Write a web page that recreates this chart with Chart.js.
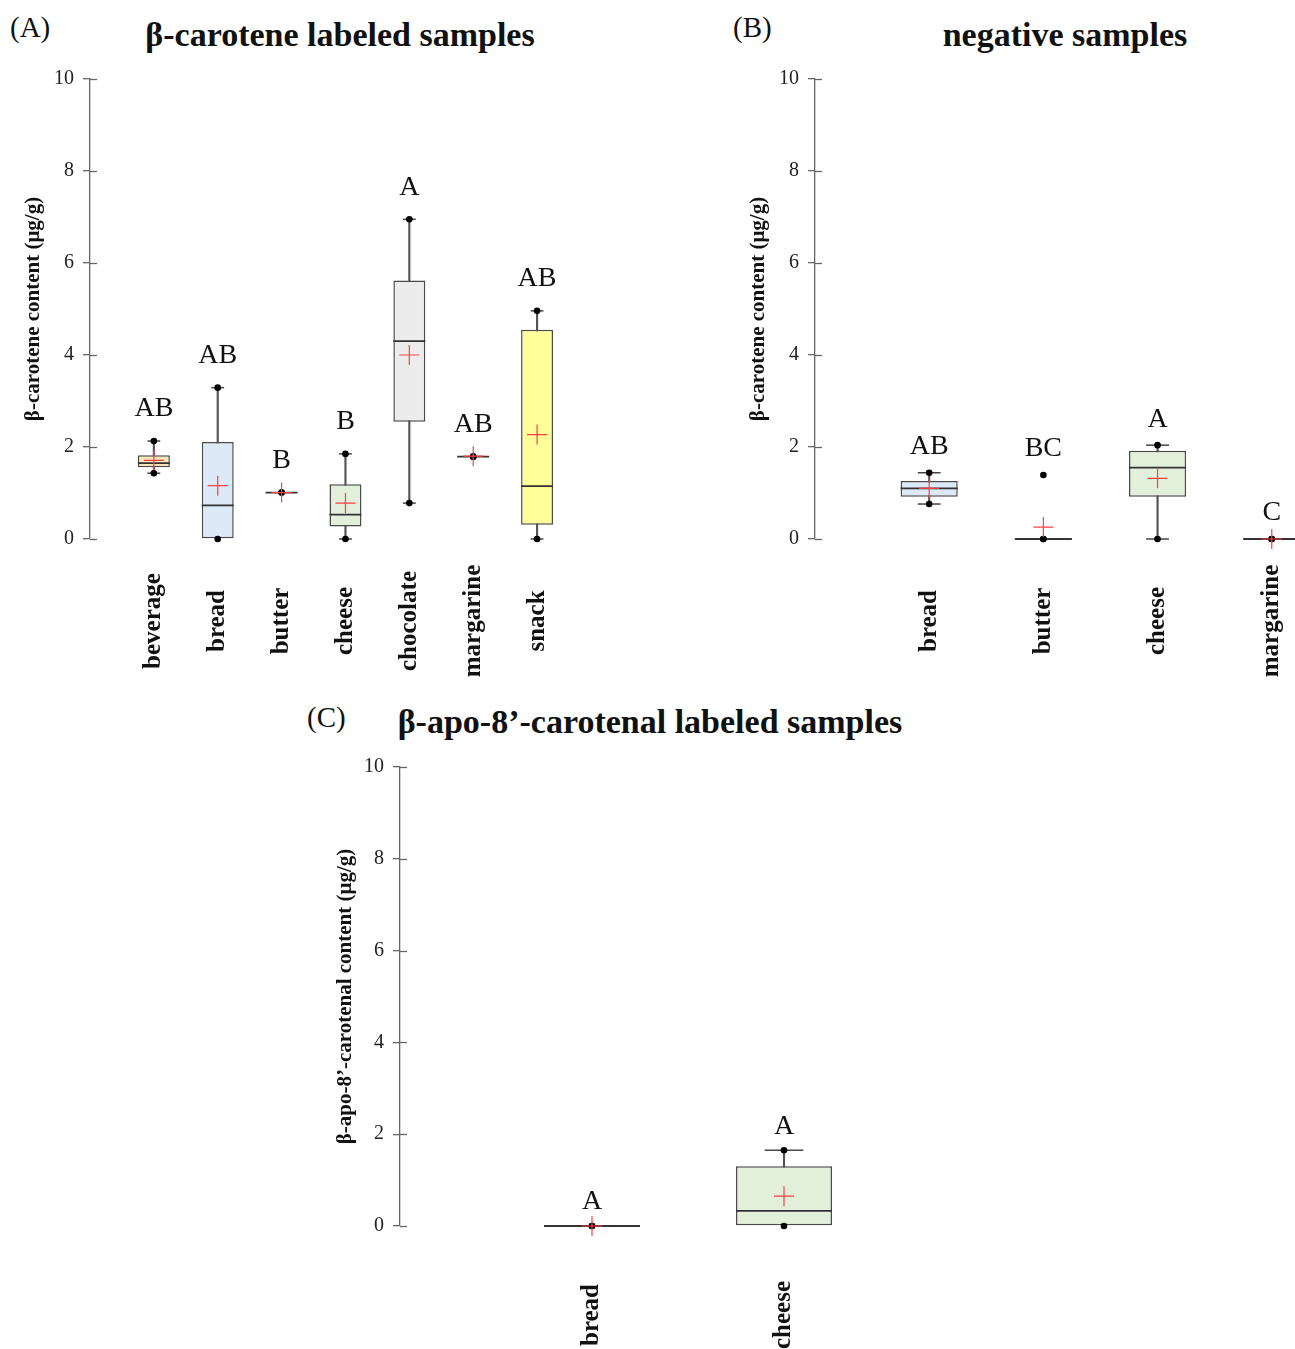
<!DOCTYPE html>
<html><head><meta charset="utf-8">
<script src="https://cdn.jsdelivr.net/npm/chart.js@4.4.1/dist/chart.umd.min.js"></script>
<style>
html,body{margin:0;padding:0;background:#fff;}
body{width:1295px;height:1349px;position:relative;overflow:hidden;font-family:'Liberation Serif','Times New Roman',serif;color:#111;}
canvas{position:absolute;}
.t{position:absolute;white-space:nowrap;line-height:1;}
.ttl{font-weight:bold;font-size:34px;transform:translateX(-50%);}
.pl{font-size:29px;}
</style>
</head><body>
<div class="t pl" style="left:10px;top:13px;">(A)</div>
<div class="t ttl" style="left:340px;top:18px;">β-carotene labeled samples</div>
<div class="t pl" style="left:733px;top:13px;">(B)</div>
<div class="t ttl" style="left:1065px;top:18px;">negative samples</div>
<div class="t pl" style="left:307px;top:703px;">(C)</div>
<div class="t ttl" style="left:650px;top:705px;">β-apo-8’-carotenal labeled samples</div>
<canvas id="cA" width="640" height="645" style="left:0px;top:55px;"></canvas>
<canvas id="cB" width="620" height="645" style="left:700px;top:55px;"></canvas>
<canvas id="cC" width="620" height="604" style="left:300px;top:745px;"></canvas>
<script>
// ---------- data: (A) beta-carotene labeled samples ----------
const catsA = ['beverage','bread','butter','cheese','chocolate','margarine','snack'];
const minA  = [1.43, 0.00, 1.01, 0.00, 0.78, 1.79, 0.00];
const q1A   = [1.56, 0.00, 1.01, 0.27, 2.55, 1.79, 0.31];
const medA  = [1.65, 0.73, 1.01, 0.53, 4.30, 1.79, 1.15];
const q3A   = [1.82, 2.11, 1.01, 1.19, 5.62, 1.79, 4.55];
const maxA  = [2.13, 3.29, 1.01, 1.85, 6.95, 1.79, 4.96];
const meanA = [1.71, 1.16, 1.01, 0.78, 4.00, 1.80, 2.27];
const outA  = [[], [], [], [], [], [], []];
const letA  = ['AB','AB','B','B','A','AB','AB'];

// ---------- data: (B) negative samples ----------
const catsB = ['bread','butter','cheese','margarine'];
const minB  = [0.76, 0.00, 0.00, 0.00];
const q1B   = [0.92, 0.00, 0.92, 0.00];
const medB  = [1.10, 0.00, 1.55, 0.00];
const q3B   = [1.26, 0.00, 1.92, 0.00];
const maxB  = [1.44, 0.00, 2.04, 0.00];
const meanB = [1.10, 0.26, 1.32, 0.00];
const outB  = [[], [1.39], [], []];
const letB  = ['AB','BC','A','C'];

// ---------- data: (C) beta-apo-8'-carotenal labeled samples ----------
const catsC = ['bread','cheese'];
const minC  = [0.00, 0.00];
const q1C   = [0.00, 0.00];
const medC  = [0.00, 0.33];
const q3C   = [0.00, 1.30];
const maxC  = [0.00, 1.65];
const meanC = [0.00, 0.65];
const outC  = [[], []];
const letC  = ['A','A'];

const yTicks = [0, 2, 4, 6, 8, 10];

// ---------- styles ----------
const fillA = ['#f8e7b6','#dde9f6','#e2efda','#e2efda','#ececec','#e2efda','#ffff99'];
const fillB = ['#dde9f6','#e2efda','#e2efda','#e2efda'];
const fillC = ['#e2efda','#e2efda'];

Chart.defaults.font.family = "'Liberation Serif','Times New Roman',serif";
Chart.defaults.color = '#222';

function halfUnitPx(chart, f){
  const x = chart.scales.x;
  return Math.abs(x.getPixelForValue(f) - x.getPixelForValue(0));
}

function boxChart(id, d, L){
  const idx = d.cats.map((c,i)=>i+1);
  const caps = [], dots = [];
  idx.forEach((x,i)=>{
    if (d.max[i] > d.q3[i]) caps.push({x, y:d.max[i]});
    if (d.min[i] < d.q1[i]) caps.push({x, y:d.min[i]});
    dots.push({x, y:d.min[i]});
    dots.push({x, y:d.max[i]});
    d.out[i].forEach(v=>dots.push({x, y:v}));
  });
  const decor = {
    id:'decor',
    afterDraw(chart){
      const ctx = chart.ctx, xs = chart.scales.x, ys = chart.scales.y;
      ctx.save();
      ctx.strokeStyle = '#666'; ctx.lineWidth = 1.3;
      yTicks.forEach(v=>{
        const py = Math.round(ys.getPixelForValue(v)) + 0.5;
        ctx.beginPath(); ctx.moveTo(ys.right, py); ctx.lineTo(ys.right + 7, py); ctx.stroke();
      });
      ctx.fillStyle = '#111';
      ctx.font = "bold 25px 'Liberation Serif'";
      ctx.textAlign = 'center'; ctx.textBaseline = 'middle';
      d.cats.forEach((c,i)=>{
        ctx.save();
        ctx.translate(xs.getPixelForValue(i+1), chart.chartArea.bottom + L.labelOff);
        ctx.rotate(-Math.PI/2);
        ctx.fillText(c, 0, 0);
        ctx.restore();
      });
      ctx.font = "28px 'Liberation Serif'";
      d.let.forEach((t,i)=>{
        const top = Math.max(d.max[i], ...d.out[i]);
        ctx.fillText(t, xs.getPixelForValue(i+1), ys.getPixelForValue(top) - L.letOff);
      });
      ctx.restore();
    }
  };
  return new Chart(document.getElementById(id), {
    type:'bar',
    data:{
      datasets:[
        { type:'scatter', label:'mean', data: idx.map((x,i)=>({x, y:d.mean[i]})),
          pointStyle:'cross', pointRadius:10, pointBorderColor:'#ff4040', pointBorderWidth:1.2,
          pointBackgroundColor:'#ff4040', showLine:false, order:0, clip:false },
        { type:'scatter', label:'min/max', data: dots,
          pointStyle:'circle', pointRadius:3.3, pointBackgroundColor:'#000', pointBorderColor:'#000',
          pointBorderWidth:0, showLine:false, order:1, clip:false },
        { type:'scatter', label:'caps', data: caps,
          pointStyle:'line', pointRadius: ctx=>halfUnitPx(ctx.chart, 0.1), pointBorderColor:'#444',
          pointBorderWidth:1.5, showLine:false, order:2, clip:false },
        { type:'scatter', label:'median', data: idx.map((x,i)=>({x, y:d.med[i]})),
          pointStyle:'line', pointRadius: ctx=>halfUnitPx(ctx.chart, 0.25), pointBorderColor:'#333',
          pointBorderWidth:1.8, showLine:false, order:3, clip:false },
        { type:'bar', label:'box', data: idx.map((x,i)=>({x, y:[d.q1[i], d.q3[i]]})),
          backgroundColor: d.fill, borderColor:'#4a4a4a', borderWidth:1.5, borderSkipped:false,
          barPercentage:0.5, categoryPercentage:1, grouped:false, order:4 },
        { type:'bar', label:'whisker', data: idx.map((x,i)=>({x, y:[d.min[i], d.max[i]]})),
          backgroundColor:'#555', barThickness:1.5, grouped:false, order:5 }
      ]
    },
    options:{
      responsive:false, animation:false, events:[],
      layout:{padding:{top:L.padTop, right:L.padRight, left:0, bottom:0}},
      plugins:{legend:{display:false}, tooltip:{enabled:false}},
      scales:{
        x:{ type:'linear', min:0, max:L.xMax, offset:false, grid:{display:false, offset:false}, border:{display:false},
            ticks:{display:false},
            afterBuildTicks: s=>{ s.ticks = idx.map(v=>({value:v})); },
            afterFit: s=>{ s.height = L.xh; } },
        y:{ min:0, max:10,
            afterBuildTicks: s=>{ s.ticks = yTicks.map(v=>({value:v})); },
            ticks:{ font:{size:20}, color:'#222', padding:9 },
            grid:{ drawOnChartArea:false, tickLength:7, color:'#666', lineWidth:1.3 },
            border:{ color:'#666', width:1.3 },
            title:{ display:true, text:L.yTitle, font:{size:21, weight:'bold'}, color:'#111',
                    padding:{top:L.titlePad, bottom:0} },
            afterFit: s=>{ s.width = L.yw; } }
      }
    },
    plugins:[decor]
  });
}

boxChart('cA', {cats:catsA, min:minA, q1:q1A, med:medA, q3:q3A, max:maxA, mean:meanA, out:outA, let:letA, fill:fillA},
  {padTop:24, padRight:71, xMax:7.5, xh:161, yw:90, labelOff:82, letOff:32, titlePad:21,
   yTitle:'β-carotene content (μg/g)'});
boxChart('cB', {cats:catsB, min:minB, q1:q1B, med:medB, q3:q3B, max:maxB, mean:meanB, out:outB, let:letB, fill:fillB},
  {padTop:24, padRight:14, xMax:4.3, xh:161, yw:115, labelOff:82, letOff:26, titlePad:46,
   yTitle:'β-carotene content (μg/g)'});
boxChart('cC', {cats:catsC, min:minC, q1:q1C, med:medC, q3:q3C, max:maxC, mean:meanC, out:outC, let:letC, fill:fillC},
  {padTop:22, padRight:40, xMax:2.5, xh:123, yw:100, labelOff:89, letOff:24, titlePad:33,
   yTitle:'β-apo-8’-carotenal content (μg/g)'});
</script>
</body></html>
